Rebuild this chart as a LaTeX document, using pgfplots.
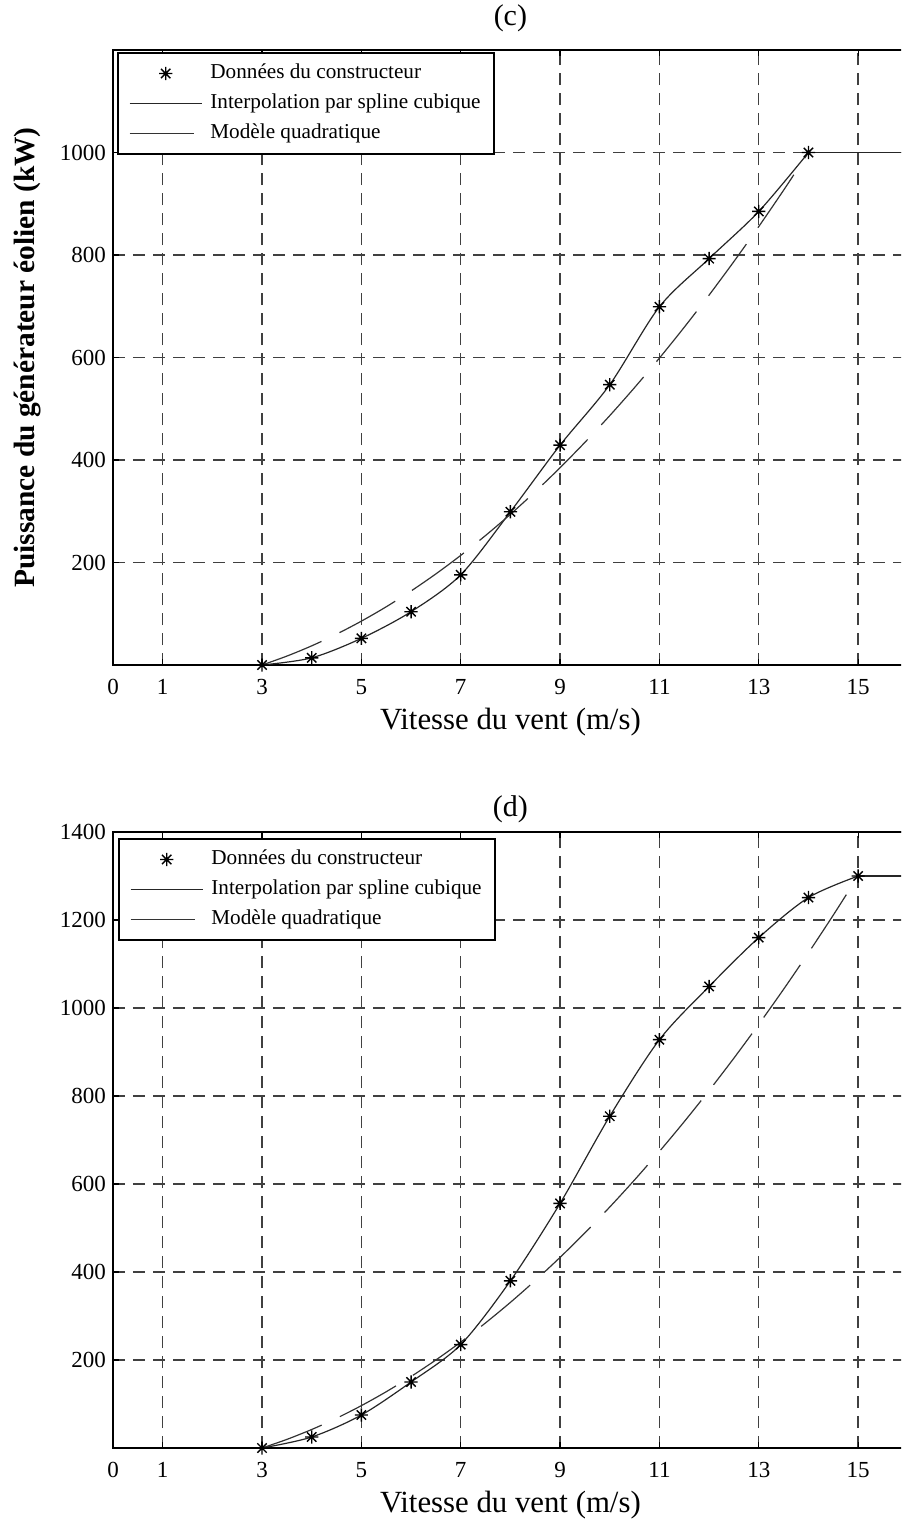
\documentclass[border=0pt]{standalone}
\usepackage{fontspec}
\setmainfont{Liberation Serif}
\usepackage{pgfplots}
\pgfplotsset{compat=1.18}
\pgfdeclareplotmark{mstar}{%
  \pgfpathmoveto{\pgfqpoint{0pt}{\pgfplotmarksize}}\pgfpathlineto{\pgfqpoint{0pt}{-\pgfplotmarksize}}%
  \pgfpathmoveto{\pgfqpoint{\pgfplotmarksize}{0pt}}\pgfpathlineto{\pgfqpoint{-\pgfplotmarksize}{0pt}}%
  \pgfpathmoveto{\pgfqpoint{0.707\pgfplotmarksize}{0.707\pgfplotmarksize}}\pgfpathlineto{\pgfqpoint{-0.707\pgfplotmarksize}{-0.707\pgfplotmarksize}}%
  \pgfpathmoveto{\pgfqpoint{0.707\pgfplotmarksize}{-0.707\pgfplotmarksize}}\pgfpathlineto{\pgfqpoint{-0.707\pgfplotmarksize}{0.707\pgfplotmarksize}}%
  \pgfusepathqstroke}
\pgfplotsset{
  myaxis/.style={
    scale only axis,
    width=397.4pt,
    xmin=0, xmax=16,
    xtick={0,1,3,5,7,9,11,13,15},
    grid=major,
    major grid style={dash pattern=on 6pt off 4pt, black!75, line width=0.7pt},
    axis line style={line width=1pt},
    tick style={black, line width=0.6pt},
    major tick length=3pt,
    tick align=inside,
    ticklabel style={font=\fontsize{11.5}{13}\selectfont},
    /pgf/number format/assume math mode=true,
    /pgf/number format/1000 sep={},
    xticklabel style={yshift=-3.5pt},
    label style={font=\fontsize{15.4}{18}\selectfont},
    title style={font=\fontsize{15}{18}\selectfont, anchor=center, yshift=0pt},
    xlabel style={at={(axis description cs:0.5,-0.0927)}, anchor=center},
    legend cell align=left,
    legend style={at={(axis description cs:0,1)}, anchor=north west,
      draw=black, line width=1pt, inner xsep=4.5pt, inner ysep=3pt, row sep=0.5pt,
      font=\fontsize{10.6}{12}\selectfont,
      nodes={inner xsep=2pt, inner ysep=2.5pt, text height=7pt, text depth=2.5pt}},
    legend image code/.code={\path (0pt,0pt) (39pt,0pt); \draw[##1] (1pt,0pt) -- (37pt,0pt);},
  },
  datapts/.style={only marks, mark=mstar, mark size=3.3pt, black, line width=0.7pt,
    legend image code/.code={\path (0pt,0pt) (39pt,0pt); \draw[##1] plot coordinates {(19pt,0pt)};}},
  splinestyle/.style={black!85, line width=0.6pt, smooth, no marks},
  quadstyle/.style={black!80, line width=0.6pt, dash pattern=on 32pt off 10pt, smooth, no marks,
    legend image code/.code={\path (0pt,0pt) (39pt,0pt); \draw[black!80, line width=0.6pt] (1pt,0pt) -- (37pt,0pt);}},
}
\begin{document}
\begin{tikzpicture}
\path[use as bounding box, clip] (0,0) rectangle (450.5pt,-761pt);

% ---------------- (c) ----------------
\begin{axis}[myaxis,
  at={(56.5pt,-332.5pt)}, anchor=south west,
  height=307.5pt,
  ymin=0, ymax=1200,
  ytick={200,400,600,800,1000},
  title={(c)},
  title style={at={(axis description cs:0.5,1.0325)}},
  xlabel={Vitesse du vent (m/s)},
  ylabel={\bfseries Puissance du générateur éolien (kW)},
  ylabel style={at={(axis description cs:-0.107,0.5)}, anchor=center, font=\fontsize{14.7}{18}\selectfont},
  legend style={xshift=2pt, yshift=-1pt},
]
\addplot[datapts] coordinates {
  (3,0) (4,14) (5,52) (6,104) (7,176) (8,299) (9,429) (10,547) (11,699) (12,793) (13,885) (14,1000)
};
\addlegendentry{Données du constructeur}
\addplot[splinestyle] coordinates {
  (3,0) (4,14) (5,52) (6,104) (7,176) (8,299) (9,429) (10,547) (11,699) (12,793) (13,885) (14,1000)
};
\addlegendentry{Interpolation par spline cubique}
\addplot[quadstyle] coordinates {
  (3,0) (3.5,17.4) (4,37.4) (4.5,60.2) (5,85.6) (5.5,113.6) (6,144.4) (6.5,177.8)
  (7,213.9) (7.5,252.7) (8,294.1) (8.5,338.2) (9,385.0) (9.5,434.5) (10,486.6)
  (10.5,541.4) (11,598.9) (11.5,659.1) (12,721.9) (12.5,787.4) (13,855.6) (13.5,926.5) (14,1000)
};
\addlegendentry{Modèle quadratique}
\addplot[black!85, line width=0.6pt, no marks, forget plot] coordinates {(14,1000) (16,1000)};
\end{axis}

% ---------------- (d) ----------------
\begin{axis}[myaxis,
  at={(56.5pt,-724pt)}, anchor=south west,
  height=308pt,
  ymin=0, ymax=1400,
  ytick={200,400,600,800,1000,1200,1400},
  title={(d)},
  title style={at={(axis description cs:0.5,1.0178)}},
  xlabel={Vitesse du vent (m/s)},
  legend style={xshift=2.5pt, yshift=-3pt},
]
\addplot[datapts] coordinates {
  (3,0) (4,25) (5,75) (6,150) (7,235) (8,380) (9,556) (10,754) (11,928) (12,1049) (13,1160) (14,1251) (15,1300)
};
\addlegendentry{Données du constructeur}
\addplot[splinestyle] coordinates {
  (3,0) (4,25) (5,75) (6,150) (7,235) (8,380) (9,556) (10,754) (11,928) (12,1049) (13,1160) (14,1251) (15,1300)
};
\addlegendentry{Interpolation par spline cubique}
\addplot[quadstyle] coordinates {
  (3,0) (3.5,19.6) (4,42.1) (4.5,67.7) (5,96.3) (5.5,127.9) (6,162.5) (6.5,200.1)
  (7,240.7) (7.5,284.4) (8,331.0) (8.5,380.7) (9,433.3) (9.5,489.0) (10,547.7)
  (10.5,609.4) (11,674.1) (11.5,741.8) (12,812.5) (12.5,886.2) (13,963.0)
  (13.5,1042.7) (14,1125.5) (14.5,1211.2) (15,1300)
};
\addlegendentry{Modèle quadratique}
\addplot[black!85, line width=0.6pt, no marks, forget plot] coordinates {(15,1300) (16,1300)};
\end{axis}
\end{tikzpicture}
\end{document}
